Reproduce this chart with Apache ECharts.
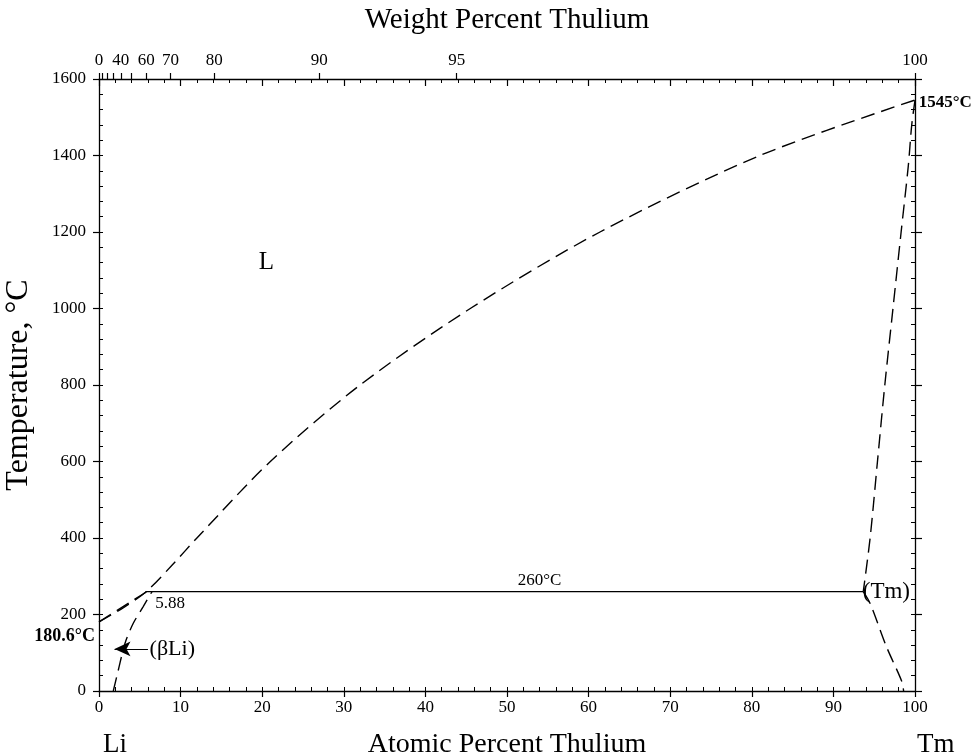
<!DOCTYPE html>
<html>
<head>
<meta charset="utf-8">
<script src="https://cdn.jsdelivr.net/npm/echarts@6/dist/echarts.min.js"></script>
<style>
html,body{margin:0;padding:0;background:#fff;}
#chart{width:974px;height:756px;}
</style>
</head>
<body>
<div id="chart"></div>
<script>
// ---------- data ----------
const liquidus = [[0,180.6],[3,218],[5.8,260],[9,330],[12,400],[21,600],[32,800],[45.5,1000],[61.4,1200],[81,1400],[100,1545]];
const liSolidus = [[0,180.6],[5.88,260]];
const liSolvus = [[1.75,0],[2.37,55],[3.19,125],[4.2,177],[5.4,220],[6.5,260]];
const tmLiquidus = [[100,1545],[99.6,1480],[99.17,1371],[98.3,1200],[97.3,1000],[96.3,800],[95.4,600],[94.5,400],[93.66,260]];
const tmSolvus = [[93.66,260],[94.5,229],[96.5,116],[98.4,24],[98.6,0]];
const peritectic = [[5.7,260],[93.66,260]];
const wtTicks = [0,10,20,30,40,50,60,70,80,90,95,100];
const wtLabels = [0,40,60,70,80,90,95,100];
const textLabels = [
  {pos:[54,260], text:'260°C', align:'center', vAlign:'bottom', size:17, bold:false, dy:-3},
  {pos:[6.9,260], text:'5.88', align:'left', vAlign:'top', size:17, bold:false, dy:3},
  {pos:[20.5,1120], text:'L', align:'center', vAlign:'middle', size:25, bold:false, dy:0},
  {pos:[6.2,110], text:'(βLi)', align:'left', vAlign:'middle', size:22, bold:false, dy:0},
  {pos:[93.6,260], text:'(Tm)', align:'left', vAlign:'middle', size:23, bold:false, dy:0},
  {pos:[-0.5,144], text:'180.6°C', align:'right', vAlign:'middle', size:18, bold:true, dy:0},
  {pos:[100.45,1537], text:'1545°C', align:'left', vAlign:'middle', size:17, bold:true, dy:0}
];
const arrowFrom = [6.0,110];
const arrowTo = [1.9,110];

// ---------- helpers ----------
const M_LI = 6.941, M_TM = 168.934;
function wtToAt(w){
  if (w >= 100) return 100;
  const a = w / M_TM, b = (100 - w) / M_LI;
  return a / (a + b) * 100;
}
const wtTickPos = wtTicks.map(wtToAt);
const wtLabelPos = wtLabels.map(wtToAt);

const FONT = 'Liberation Serif';
const black = '#000';
const dash = [14,7];

function dashedLine(data){
  return {type:'line', data:data, xAxisIndex:0, yAxisIndex:0, showSymbol:false, symbol:'none',
    smooth:0.3, lineStyle:{color:black, width:1.4, type:dash}, silent:true, z:3};
}

const chart = echarts.init(document.getElementById('chart'), null, {renderer:'canvas'});

const baseX = {type:'value', min:0, max:100, splitLine:{show:false}};
const baseY = {type:'value', min:0, max:1600, splitLine:{show:false}};
const plain = function(v){ return String(v); };

const option = {
  animation:false,
  backgroundColor:'#fff',
  textStyle:{fontFamily:FONT, color:black},
  grid:{left:99, right:59, top:79, bottom:65, containLabel:false, outerBoundsMode:'none'},
  xAxis:[
    Object.assign({}, baseX, {position:'bottom', interval:10,
      axisLine:{show:true, onZero:false, lineStyle:{color:black, width:1.3}},
      axisTick:{show:true, inside:false, length:6, lineStyle:{color:black, width:1.2}},
      axisLabel:{show:true, margin:8, fontFamily:FONT, fontSize:17, color:black, formatter:plain},
      name:'Atomic Percent Thulium', nameLocation:'middle', nameGap:40,
      nameTextStyle:{fontFamily:FONT, fontSize:28, color:black}}),
    Object.assign({}, baseX, {position:'bottom', interval:2,
      axisLine:{show:false, onZero:false},
      axisTick:{show:true, inside:true, length:4, lineStyle:{color:black, width:1}},
      axisLabel:{show:false}}),
    Object.assign({}, baseX, {position:'top',
      axisLine:{show:true, onZero:false, lineStyle:{color:black, width:1.3}},
      axisTick:{show:true, inside:false, length:6, customValues:wtTickPos, lineStyle:{color:black, width:1.2}},
      axisLabel:{show:true, margin:10, fontFamily:FONT, fontSize:17, color:black, customValues:wtLabelPos,
        formatter:function(v){
          let best=0, d=1e9;
          for (let i=0;i<wtLabelPos.length;i++){ const dd=Math.abs(wtLabelPos[i]-v); if(dd<d){d=dd;best=i;} }
          return String(wtLabels[best]);
        }},
      name:'Weight Percent Thulium', nameLocation:'middle', nameGap:44,
      nameTextStyle:{fontFamily:FONT, fontSize:29, color:black}}),
    Object.assign({}, baseX, {position:'top', interval:2,
      axisLine:{show:false, onZero:false},
      axisTick:{show:true, inside:true, length:4, lineStyle:{color:black, width:1}},
      axisLabel:{show:false}}),
    Object.assign({}, baseX, {position:'top', interval:10,
      axisLine:{show:false, onZero:false},
      axisTick:{show:true, inside:true, length:7, lineStyle:{color:black, width:1.2}},
      axisLabel:{show:false}})
  ],
  yAxis:[
    Object.assign({}, baseY, {position:'left', interval:200,
      axisLine:{show:true, onZero:false, lineStyle:{color:black, width:1.3}},
      axisTick:{show:true, inside:false, length:6, lineStyle:{color:black, width:1.2}},
      axisLabel:{show:true, margin:13, fontFamily:FONT, fontSize:17, color:black, formatter:plain},
      name:'Temperature, °C', nameLocation:'middle', nameGap:64, nameRotate:90,
      nameTextStyle:{fontFamily:FONT, fontSize:32, color:black}}),
    Object.assign({}, baseY, {position:'left', interval:40,
      axisLine:{show:false, onZero:false},
      axisTick:{show:true, inside:true, length:4, lineStyle:{color:black, width:1}},
      axisLabel:{show:false}}),
    Object.assign({}, baseY, {position:'right', interval:200,
      axisLine:{show:true, onZero:false, lineStyle:{color:black, width:1.3}},
      axisTick:{show:true, inside:false, length:7, lineStyle:{color:black, width:1.2}},
      axisLabel:{show:false}}),
    Object.assign({}, baseY, {position:'right', interval:40,
      axisLine:{show:false, onZero:false},
      axisTick:{show:true, inside:true, length:4, lineStyle:{color:black, width:1}},
      axisLabel:{show:false}})
  ],
  graphic:[
    {type:'text', left:103, top:731, style:{text:'Li', font:'27px "Liberation Serif"', fill:black}},
    {type:'text', left:917, top:731, style:{text:'Tm', font:'27px "Liberation Serif"', fill:black}}
  ],
  series:[
    dashedLine(liquidus),
    Object.assign(dashedLine(liSolidus), {smooth:false}),
    dashedLine(liSolvus),
    dashedLine(tmLiquidus),
    dashedLine(tmSolvus),
    {type:'line', data:peritectic, showSymbol:false, symbol:'none', lineStyle:{color:black, width:1.3}, silent:true, z:3},
    {type:'scatter', symbolSize:0, silent:true, clip:false, z:5, itemStyle:{opacity:1},
      data:textLabels.map(function(t){
        return {value:t.pos, label:{show:true, position:'inside', formatter:t.text, align:t.align,
          verticalAlign:t.vAlign, offset:[0,t.dy], fontFamily:FONT, fontSize:t.size,
          fontWeight:t.bold?'bold':'normal', color:black, opacity:1, textBorderWidth:0}};
      })},
    {type:'line', data:[], silent:true,
      markLine:{silent:true, symbol:['none','arrow'], symbolSize:[11,16], label:{show:false},
        lineStyle:{color:black, width:1.2, type:'solid'},
        data:[[{coord:arrowFrom},{coord:arrowTo}]]}}
  ]
};
chart.setOption(option);
</script>
</body>
</html>
